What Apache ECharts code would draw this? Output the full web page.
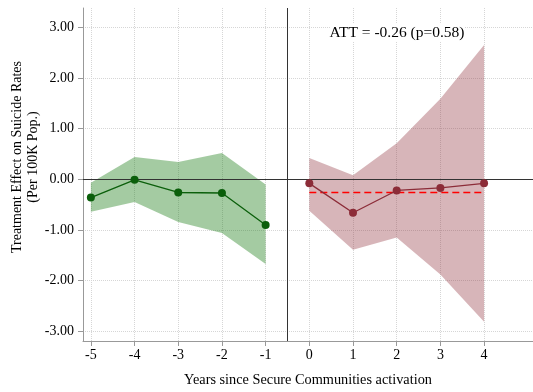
<!DOCTYPE html>
<html>
<head>
<meta charset="utf-8">
<script src="https://cdn.jsdelivr.net/npm/echarts@6/dist/echarts.min.js"></script>
<style>
  html, body { margin: 0; padding: 0; background: #fff; }
  #chart { width: 533px; height: 392px; }
</style>
</head>
<body>
<div id="chart"></div>
<script>
// Event-study estimates: years relative to activation
const preYears  = [-5, -4, -3, -2, -1];
const preEst    = [-0.36, -0.01, -0.26, -0.27, -0.90];
const preLower  = [-0.64, -0.45, -0.84, -1.06, -1.67];
const preUpper  = [-0.07, 0.44, 0.34, 0.52, -0.10];

const postYears = [0, 1, 2, 3, 4];
const postEst   = [-0.08, -0.66, -0.22, -0.17, -0.08];
const postLower = [-0.62, -1.39, -1.15, -1.88, -2.81];
const postUpper = [0.42, 0.08, 0.71, 1.59, 2.65];

const att = -0.26;
const attP = 0.58;

const xTicks = [-5, -4, -3, -2, -1, 0, 1, 2, 3, 4];
const yTicks = [-3, -2, -1, 0, 1, 2, 3];

const serif = '"Liberation Serif", "DejaVu Serif", serif';

// Confidence band polygon drawn through the axis scales
function bandSeries(xs, lo, hi, color) {
  const data = xs.map((x, i) => [x, lo[i], hi[i]]);
  return {
    type: 'custom',
    silent: true,
    z: 1,
    data: data,
    renderItem: function (params, api) {
      if (params.dataIndex !== 0) return null;
      const upper = data.map(d => api.coord([d[0], d[2]]));
      const lower = data.slice().reverse().map(d => api.coord([d[0], d[1]]));
      return {
        type: 'polygon',
        shape: { points: upper.concat(lower) },
        style: { fill: color }
      };
    },
    encode: { x: 0, y: [1, 2] }
  };
}

const chart = echarts.init(document.getElementById('chart'), null, { renderer: 'canvas' });

chart.setOption({
  animation: false,
  backgroundColor: '#ffffff',
  grid: { left: 83, right: 0, top: 8, bottom: 46, containLabel: false },
  xAxis: {
    type: 'value',
    min: -5.18,
    max: 5.12,
    name: 'Years since Secure Communities activation',
    nameLocation: 'middle',
    nameGap: 32,
    nameTextStyle: { fontFamily: serif, fontSize: 14.3, color: '#000' },
    axisLine: { show: true, onZero: false, lineStyle: { color: '#999', width: 1 } },
    axisTick: { show: true, length: 5, customValues: xTicks, lineStyle: { color: '#999' } },
    axisLabel: { customValues: xTicks, fontFamily: serif, fontSize: 14, color: '#000', margin: 7 },
    splitLine: { show: true, lineStyle: { color: '#d6d6d6', type: 'dotted', width: 1 } }
  },
  yAxis: {
    type: 'value',
    min: -3.19,
    max: 3.38,
    axisLine: { show: true, onZero: false, lineStyle: { color: '#999', width: 1 } },
    axisTick: { show: true, length: 5, customValues: yTicks, lineStyle: { color: '#999' } },
    axisLabel: {
      customValues: yTicks,
      fontFamily: serif, fontSize: 14, color: '#000', margin: 9,
      formatter: v => v.toFixed(2)
    },
    splitLine: { show: true, lineStyle: { color: '#d6d6d6', type: 'dotted', width: 1 } }
  },
  graphic: [
    {
      type: 'text',
      x: 25, y: 157,
      rotation: Math.PI / 2,
      z: 100,
      style: {
        text: 'Treatment Effect on Suicide Rates\n(Per 100K Pop.)',
        font: '14px ' + serif,
        fill: '#000',
        align: 'center',
        verticalAlign: 'middle',
        lineHeight: 16
      }
    },
    {
      type: 'rect',
      z: 99,
      shape: { x: 330, y: 24, width: 134, height: 18 },
      style: { fill: '#fff' }
    },
    {
      type: 'text',
      x: 397, y: 33,
      z: 100,
      style: {
        text: 'ATT = ' + att.toFixed(2) + ' (p=' + attP.toFixed(2) + ')',
        font: '15.5px ' + serif,
        fill: '#000',
        align: 'center',
        verticalAlign: 'middle'
      }
    }
  ],
  series: [
    bandSeries(preYears, preLower, preUpper, 'rgba(20,120,15,0.39)'),
    bandSeries(postYears, postLower, postUpper, 'rgba(150,60,70,0.38)'),
    {
      type: 'line',
      z: 3,
      data: [],
      markLine: {
        silent: true,
        symbol: 'none',
        label: { show: false },
        lineStyle: { color: '#333', type: 'solid', width: 1 },
        data: [{ yAxis: 0 }, { xAxis: -0.5 }]
      }
    },
    {
      type: 'line',
      z: 4,
      data: postYears.filter((_, i) => i === 0 || i === postYears.length - 1).map(x => [x, att]),
      symbol: 'none',
      lineStyle: { color: '#ff0000', type: [7, 4], width: 1.6 }
    },
    {
      type: 'line',
      z: 5,
      data: preYears.map((x, i) => [x, preEst[i]]),
      symbol: 'circle',
      symbolSize: 8,
      itemStyle: { color: '#0b5f0b' },
      lineStyle: { color: '#0b5f0b', width: 1.3 }
    },
    {
      type: 'line',
      z: 5,
      data: postYears.map((x, i) => [x, postEst[i]]),
      symbol: 'circle',
      symbolSize: 8,
      itemStyle: { color: '#8c2c38' },
      lineStyle: { color: '#8c2c38', width: 1.3 }
    }
  ]
});
</script>
</body>
</html>
